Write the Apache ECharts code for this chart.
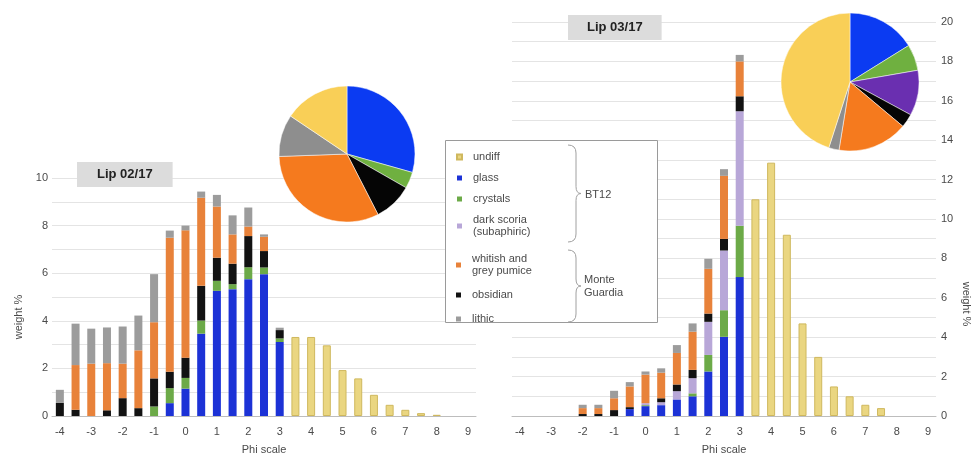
<!DOCTYPE html>
<html>
<head>
<meta charset="utf-8">
<script src="https://cdn.jsdelivr.net/npm/echarts@6/dist/echarts.min.js"></script>
<style>
  html, body { margin: 0; padding: 0; background: #fff; }
  #chart { width: 974px; height: 460px; }
</style>
</head>
<body>
<div id="chart"></div>
<script>
// Grain-size classes (phi), half-phi steps
const phiBins = ['-4','-3.5','-3','-2.5','-2','-1.5','-1','-0.5','0','0.5','1','1.5','2','2.5','3','3.5','4','4.5','5','5.5','6','6.5','7','7.5','8','8.5','9'];

// Component names (legend / series)
const componentNames = ['glass', 'crystals', 'dark scoria\n(subaphiric)', 'obsidian', 'whitish and\ngrey pumice', 'lithic', 'undiff'];

// Lip 02/17 — weight % per phi class
const lip02Glass    = [0,0,0,0,0,0,0,0.54,1.15,3.46,5.26,5.33,5.75,5.96,3.11,0,0,0,0,0,0,0,0,0,0,0,0];
const lip02Crystals = [0,0,0,0,0,0,0.4,0.63,0.45,0.55,0.42,0.21,0.5,0.28,0.15,0,0,0,0,0,0,0,0,0,0,0,0];
const lip02Scoria   = [0,0,0,0,0,0,0,0,0,0,0,0,0,0,0,0,0,0,0,0,0,0,0,0,0,0,0];
const lip02Obsidian = [0.55,0.26,0,0.24,0.75,0.33,1.18,0.69,0.85,1.46,0.97,0.86,1.31,0.69,0.35,0,0,0,0,0,0,0,0,0,0,0,0];
const lip02Pumice   = [0,1.88,2.2,1.98,1.45,2.43,2.36,5.63,5.35,3.7,2.15,1.23,0.4,0.6,0,0,0,0,0,0,0,0,0,0,0,0,0];
const lip02Lithic   = [0.55,1.74,1.47,1.5,1.56,1.46,2.02,0.3,0.2,0.26,0.49,0.8,0.8,0.1,0.1,0,0,0,0,0,0,0,0,0,0,0,0];
const lip02Undiff   = [0,0,0,0,0,0,0,0,0,0,0,0,0,0,0,3.32,3.32,2.97,1.93,1.58,0.89,0.47,0.26,0.12,0.05,0,0];

// Lip 03/17 — weight % per phi class
const lip03Glass    = [0,0,0,0,0,0,0,0.35,0.5,0.55,0.84,1.0,2.26,4.02,7.05,0,0,0,0,0,0,0,0,0,0,0,0];
const lip03Crystals = [0,0,0,0,0,0,0,0,0.05,0,0,0.15,0.84,1.35,2.61,0,0,0,0,0,0,0,0,0,0,0,0];
const lip03Scoria   = [0,0,0,0,0,0,0,0,0.1,0.15,0.42,0.77,1.68,3.03,5.81,0,0,0,0,0,0,0,0,0,0,0,0];
const lip03Obsidian = [0,0,0,0,0.1,0.1,0.3,0.1,0,0.2,0.34,0.42,0.42,0.59,0.76,0,0,0,0,0,0,0,0,0,0,0,0];
const lip03Pumice   = [0,0,0,0,0.3,0.3,0.6,1.05,1.45,1.3,1.6,1.94,2.27,3.2,1.77,0,0,0,0,0,0,0,0,0,0,0,0];
const lip03Lithic   = [0,0,0,0,0.17,0.17,0.38,0.22,0.16,0.22,0.4,0.42,0.51,0.34,0.33,0,0,0,0,0,0,0,0,0,0,0,0];
const lip03Undiff   = [0,0,0,0,0,0,0,0,0,0,0,0,0,0,0,11.0,12.86,9.2,4.7,3.0,1.5,1.0,0.57,0.4,0,0,0];

// Bulk composition (%) shown in the pies, same component order
const lip02Pie = [29.4, 3.9, 0, 9.2, 32.0, 10.0, 15.6];
const lip03Pie = [16.1, 6.1, 10.6, 3.2, 16.4, 2.4, 44.9];

const barColors = ['#1c32d6', '#6caa48', '#b8a7d8', '#121212', '#e8823a', '#9c9c9c', '#ead681'];
const pieColors = ['#0b3bf2', '#6fb040', '#6a2fb0', '#050505', '#f57a1e', '#8e8e8e', '#f9cf57'];

const FONT = 'Liberation Sans, Arial, sans-serif';
const TXT = '#4a4a4a';

const lip02 = [lip02Glass, lip02Crystals, lip02Scoria, lip02Obsidian, lip02Pumice, lip02Lithic, lip02Undiff];
const lip03 = [lip03Glass, lip03Crystals, lip03Scoria, lip03Obsidian, lip03Pumice, lip03Lithic, lip03Undiff];

function barSeries(sets, axisIdx, stackId) {
  return sets.map((vals, i) => ({
    type: 'bar',
    name: componentNames[i],
    stack: stackId,
    xAxisIndex: axisIdx,
    yAxisIndex: axisIdx,
    barWidth: 8,
    data: vals.map(v => (v > 0 ? v : null)),
    itemStyle: i === 6
      ? { color: barColors[i], borderColor: '#cfb85e', borderWidth: 1 }
      : { color: barColors[i] },
    emphasis: { disabled: true }
  }));
}

function pieSeries(vals, center, radius) {
  return {
    type: 'pie',
    center: center,
    radius: radius,
    startAngle: 90,
    clockwise: true,
    label: { show: false },
    labelLine: { show: false },
    emphasis: { disabled: true },
    itemStyle: { borderColor: '#fff', borderWidth: 0.5 },
    data: vals.map((v, i) => ({ name: componentNames[i], value: v, itemStyle: { color: pieColors[i] } }))
              .filter(d => d.value > 0)
  };
}

// Curly brace "}" built from lines and quadratic curves, tip pointing right
function brace(top, bottom, xl, xs) {
  const mid = (top + bottom) / 2;
  const st = { stroke: '#a0a0a0', lineWidth: 1, fill: 'none' };
  const q = (x1, y1, cx, cy, x2, y2) => ({ type: 'bezierCurve', z: 55, shape: { x1, y1, cpx1: cx, cpy1: cy, x2, y2 }, style: st });
  const l = (x1, y1, x2, y2) => ({ type: 'line', z: 55, shape: { x1, y1, x2, y2 }, style: st });
  return [
    q(xl, top, xs, top, xs, top + 8),
    l(xs, top + 8, xs, mid - 7),
    q(xs, mid - 7, xs, mid, xs + 5, mid),
    q(xs + 5, mid, xs, mid, xs, mid + 7),
    l(xs, mid + 7, xs, bottom - 8),
    q(xs, bottom - 8, xs, bottom, xl, bottom)
  ];
}

const xAxisBase = {
  type: 'category',
  data: phiBins,
  axisLine: { lineStyle: { color: '#bdbdbd' } },
  axisTick: { show: false },
  axisLabel: { interval: 1, color: TXT, fontSize: 11, fontFamily: FONT, margin: 10 },
  name: 'Phi scale',
  nameLocation: 'middle',
  nameGap: 28,
  nameTextStyle: { color: TXT, fontSize: 11, fontFamily: FONT }
};

const splitStyle = { lineStyle: { color: '#e4e4e4', width: 1 } };

const legendText = { color: TXT, fontSize: 11, lineHeight: 12, fontFamily: FONT, padding: [0, 0, 0, 6] };
function legendItems(idxs) {
  return idxs.map(i => ({ name: componentNames[i], icon: 'rect', itemStyle: { color: barColors[i] } }));
}

const chart = echarts.init(document.getElementById('chart'), null, { renderer: 'canvas' });

chart.setOption({
  animation: false,
  backgroundColor: '#fff',
  title: [
    { text: 'Lip 02/17', left: 77, top: 162, padding: [6, 20, 6, 20], backgroundColor: '#dcdcdc',
      textStyle: { fontSize: 13, fontWeight: 'bold', color: '#222', fontFamily: FONT } },
    { text: 'Lip 03/17', left: 568, top: 15, padding: [6, 19, 6, 19], backgroundColor: '#dcdcdc',
      textStyle: { fontSize: 13, fontWeight: 'bold', color: '#222', fontFamily: FONT } }
  ],
  grid: [
    { left: 52, right: 498, top: 178, bottom: 42 },
    { left: 512, right: 38, top: 22, bottom: 42 }
  ],
  xAxis: [
    Object.assign({ gridIndex: 0 }, xAxisBase),
    Object.assign({ gridIndex: 1 }, xAxisBase)
  ],
  yAxis: [
    { type: 'value', gridIndex: 0, min: 0, max: 10, interval: 2, position: 'left',
      axisLine: { show: false }, axisTick: { show: false },
      axisLabel: { color: TXT, fontSize: 11, fontFamily: FONT, margin: 4 },
      splitLine: splitStyle, minorTick: { show: false, splitNumber: 2 }, minorSplitLine: Object.assign({ show: true }, splitStyle),
      name: 'weight %', nameLocation: 'middle', nameGap: 28, nameRotate: 90,
      nameTextStyle: { color: TXT, fontSize: 11, fontFamily: FONT, padding: [0, 40, 0, 0] } },
    { type: 'value', gridIndex: 1, min: 0, max: 20, interval: 2, position: 'right',
      axisLine: { show: false }, axisTick: { show: false },
      axisLabel: { color: TXT, fontSize: 11, fontFamily: FONT, margin: 5 },
      splitLine: splitStyle, minorTick: { show: false, splitNumber: 2 }, minorSplitLine: Object.assign({ show: true }, splitStyle),
      name: 'weight %', nameLocation: 'middle', nameGap: 25, nameRotate: -90,
      nameTextStyle: { color: TXT, fontSize: 11, fontFamily: FONT, padding: [0, 0, 0, 170] } }
  ],
  legend: [
    { orient: 'vertical', left: 456, top: 151, padding: 0, itemWidth: 5, itemHeight: 5, itemGap: 9,
      selectedMode: false, z: 60, textStyle: legendText, data: legendItems([6, 0, 1, 2]) },
    { orient: 'vertical', left: 456, top: 253, padding: 0, itemWidth: 5, itemHeight: 5, itemGap: 12,
      selectedMode: false, z: 60, textStyle: legendText, data: legendItems([4, 3, 5]) }
  ],
  graphic: [
    { type: 'rect', z: 50, shape: { x: 445.5, y: 140.5, width: 212, height: 182 },
      style: { fill: '#fff', stroke: '#9a9a9a', lineWidth: 1 } },
    ...brace(145, 242, 568, 576),
    ...brace(250, 322, 568, 576),
    { type: 'text', z: 56, left: 585, top: 189,
      style: { text: 'BT12', fill: TXT, fontSize: 11, fontFamily: FONT } },
    { type: 'text', z: 56, left: 584, top: 273,
      style: { text: 'Monte\nGuardia', fill: TXT, fontSize: 11, lineHeight: 13, fontFamily: FONT } }
  ],
  series: [
    ...barSeries(lip02, 0, 'lip02'),
    ...barSeries(lip03, 1, 'lip03'),
    pieSeries(lip02Pie, [347, 154], 68),
    pieSeries(lip03Pie, [850, 82], 69)
  ]
});
</script>
</body>
</html>
